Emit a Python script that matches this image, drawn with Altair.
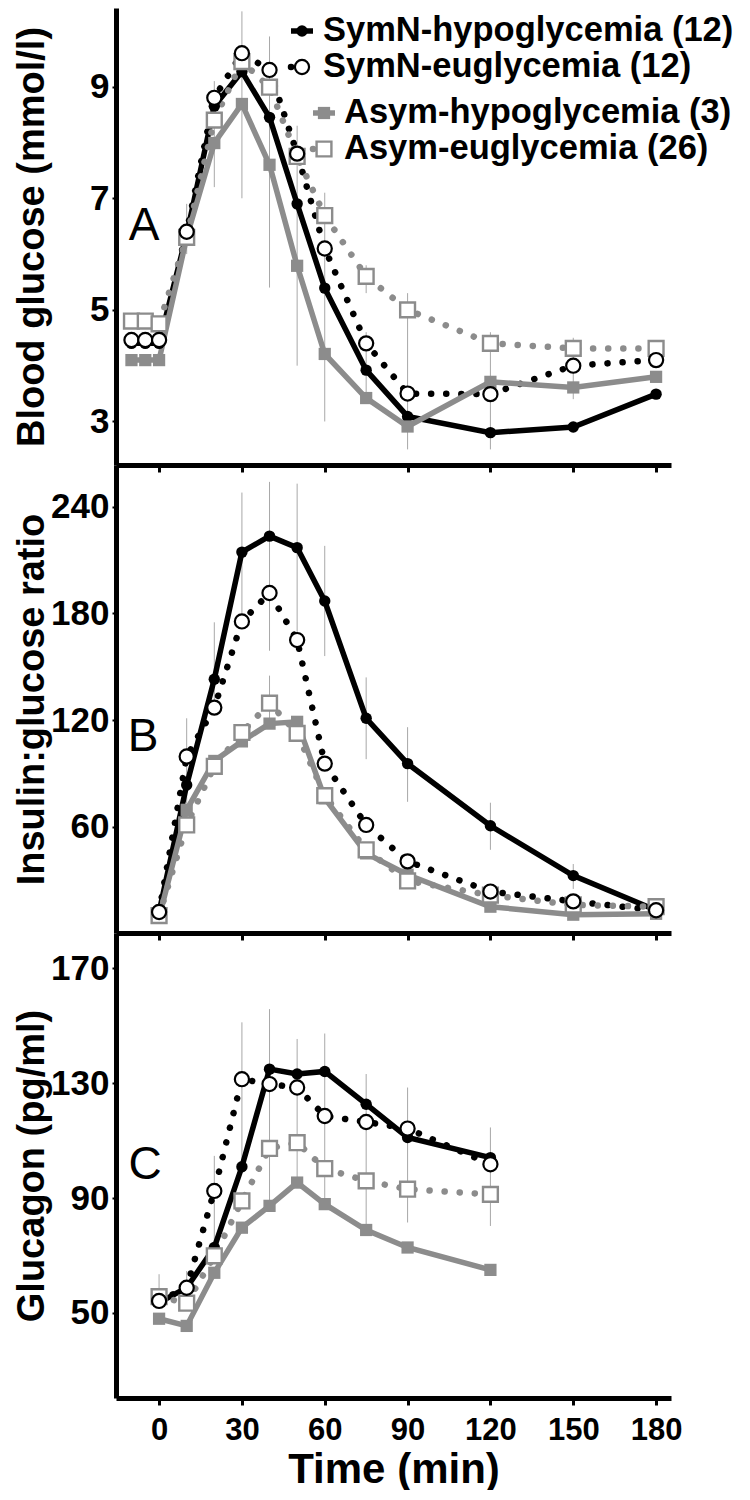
import altair as alt
import pandas as pd

SERIES = ["SymN-hypoglycemia (12)", "SymN-euglycemia (12)",
          "Asym-hypoglycemia (3)", "Asym-euglycemia (26)"]

# ---- Panel A: blood glucose (mmol/l)
time_a = [-10, -5, 0, 10, 20, 30, 40, 50, 60, 75, 90, 120, 150, 180]
glu_symn_hypo = [4.4, 4.4, 4.4, 6.35, 8.65, 9.27, 8.45, 6.9, 5.39, 3.92, 3.09, 2.8, 2.9, 3.49]
glu_symn_eu = [4.46, 4.46, 4.46, 6.4, 8.8, 9.6, 9.3, 7.8, 6.1, 4.4, 3.5, 3.49, 4.0, 4.1]
glu_asym_hypo = [4.1, 4.1, 4.1, 6.3, 7.99, 8.69, 7.6, 5.79, 4.21, 3.42, 2.91, 3.71, 3.61, 3.8]
glu_asym_eu = [4.8, 4.8, 4.75, 6.3, 8.4, 9.45, 8.99, 7.75, 6.69, 5.6, 5.0, 4.4, 4.31, 4.31]
err_a_time = [10, 20, 30, 40, 50, 60, 75, 75, 90, 120, 150]
err_a_lo = [6.0, 7.2, 7.0, 5.4, 4.0, 3.0, 3.4, 5.3, 2.5, 2.5, 3.4]
err_a_hi = [6.9, 9.1, 10.35, 9.9, 8.3, 7.1, 4.6, 5.8, 5.3, 4.6, 4.5]

# ---- Panel B: insulin:glucose ratio
time_b = [0, 10, 20, 30, 40, 50, 60, 75, 90, 120, 150, 180]
igr_symn_hypo = [12, 83.5, 143, 214.5, 223.5, 217, 187, 121, 95.5, 60.5, 32.5, 13]
igr_symn_eu = [12, 99.5, 127, 175.5, 191.5, 165, 95.5, 61, 40.5, 23.5, 18, 13]
igr_asym_hypo = [9, 69.5, 97, 108, 118, 119, 76, 45, 33, 15, 10.5, 11]
igr_asym_eu = [10, 61, 94, 113, 129.5, 112.5, 77.5, 47, 29.5, 21.5, 16, 15]
err_b_time = [10, 20, 30, 40, 40, 50, 60, 75, 90, 120, 150]
err_b_lo = [73, 129, 180, 159, 118, 165, 156, 98, 74, 47, 25]
err_b_hi = [121, 175, 248, 254, 145, 253, 218, 144, 116, 73.5, 39]

# ---- Panel C: glucagon (pg/ml)
time_c = [0, 10, 20, 30, 40, 50, 60, 75, 90, 120]
gcg_symn_hypo = [53.6, 58.8, 72.8, 100.9, 134.9, 133.2, 134.1, 122.7, 111.1, 104.1]
gcg_symn_eu = [54.2, 58.8, 92.5, 131.4, 129.7, 128.5, 118.6, 116.5, 114.2, 101.8]
gcg_asym_hypo = [48, 45.5, 64, 79.7, 87.3, 95.4, 87.9, 78.9, 72.8, 65]
gcg_asym_eu = [55.7, 53.4, 69.9, 89, 107.3, 109.3, 100.3, 96, 93.1, 91.3]
err_c_time = [0, 10, 20, 30, 40, 50, 60, 75, 90, 120]
err_c_lo = [52.4, 57.1, 72.2, 100.1, 87.3, 94.2, 88.4, 79.2, 81.5, 80.3]
err_c_hi = [63.5, 64.6, 104.7, 151.2, 155.8, 145.4, 147.3, 133.2, 128.5, 114.6]

x_ticks = [0, 30, 60, 90, 120, 150, 180]

FONT = "Liberation Sans"
GREY = "#8c8c8c"
BLACK = "#000000"
W = 555

STYLE = {
    SERIES[0]: dict(color=BLACK, dotted=False, shape="circle", open=False),
    SERIES[1]: dict(color=BLACK, dotted=True, shape="circle", open=True),
    SERIES[2]: dict(color=GREY, dotted=False, shape="square", open=False),
    SERIES[3]: dict(color=GREY, dotted=True, shape="square", open=True),
}


def line_mark(st):
    kw = dict(color=st["color"], strokeWidth=5.5 if not st["dotted"] else 6.5)
    if st["dotted"]:
        kw.update(strokeDash=[0.1, 15], strokeCap="round")
    return kw


def point_mark(chart, st):
    if st["shape"] == "circle":
        if st["open"]:
            return chart.mark_point(shape="circle", filled=True, fill="white",
                                    stroke=st["color"], strokeWidth=2.2, size=200,
                                    opacity=1, fillOpacity=1)
        return chart.mark_point(shape="circle", filled=True, color=st["color"],
                                size=130, opacity=1)
    if st["open"]:
        return chart.mark_point(shape="square", filled=True, fill="white",
                                stroke=st["color"], strokeWidth=2.4, size=220,
                                opacity=1, fillOpacity=1)
    return chart.mark_point(shape="square", filled=True, color=st["color"],
                            size=150, opacity=1)


def panel(times, values_list, et, elo, ehi, domain, yticks, ytitle, height,
          letter, letter_x, letter_y, show_x, legend=False):
    rows = []
    for name, vals in zip(SERIES, values_list):
        for t, v in zip(times, vals):
            rows.append({"series": name, "time": t, "value": v})
    df = pd.DataFrame(rows)

    if show_x:
        xaxis = alt.Axis(values=x_ticks, title="Time (min)", grid=False,
                         domainWidth=5, domainColor=BLACK, tickColor=BLACK,
                         tickSize=7, tickWidth=3, labelFontSize=31,
                         labelFont=FONT, labelFontWeight="bold", labelColor=BLACK,
                         labelPadding=10, titleFontSize=42, titleFont=FONT,
                         titleFontWeight="bold", titleColor=BLACK, titlePadding=4,
                         labelFlush=False)
    else:
        xaxis = alt.Axis(values=x_ticks, title=None, labels=False, grid=False,
                         domainWidth=5, domainColor=BLACK, tickColor=BLACK,
                         tickSize=7, tickWidth=3)
    xenc = alt.X("time:Q", scale=alt.Scale(domain=[-15.6, 185.4], nice=False, zero=False),
                 axis=xaxis)
    yaxis = alt.Axis(values=yticks, title=ytitle, grid=False, domainWidth=5,
                     domainColor=BLACK, tickColor=BLACK, tickSize=4, tickWidth=2,
                     labelFontSize=35, labelFont=FONT, labelFontWeight="bold",
                     labelColor=BLACK, labelPadding=3, titleFontSize=38,
                     titleFont=FONT, titleFontWeight="bold", titleColor=BLACK,
                     titlePadding=1, minExtent=64, maxExtent=64)
    yenc = alt.Y("value:Q", scale=alt.Scale(domain=domain, nice=False, zero=False),
                 axis=yaxis)

    edf = pd.DataFrame({"time": et, "value": elo, "value2": ehi})
    layers = [alt.Chart(edf).mark_rule(color="#a8a8a8", strokeWidth=1).encode(
        x=xenc, y=yenc, y2="value2:Q")]

    base = alt.Chart(df)
    for name in SERIES:
        st = STYLE[name]
        layers.append(base.transform_filter(alt.datum.series == name)
                      .mark_line(**line_mark(st)).encode(x=xenc, y=yenc))
    for name in [SERIES[0], SERIES[2], SERIES[3], SERIES[1]]:
        st = STYLE[name]
        layers.append(point_mark(base.transform_filter(alt.datum.series == name), st)
                      .encode(x=xenc, y=yenc))

    ldf = pd.DataFrame({"t": [letter]})
    layers.append(alt.Chart(ldf).mark_text(font=FONT, fontSize=46, fontWeight="normal",
                                           color=BLACK, align="center",
                                           baseline="middle").encode(
        x=alt.value(letter_x), y=alt.value(letter_y), text="t:N"))

    if legend:
        sym_x = [186, 186, 208, 208]
        txt_x = [207, 207, 228, 228]
        row_y = [23, 59, 105, 141]
        for i, name in enumerate(SERIES):
            st = STYLE[name]
            d = pd.DataFrame({"label": [name]})
            rk = dict(color=st["color"], strokeWidth=5.5 if not st["dotted"] else 6.5)
            if st["dotted"]:
                rk.update(strokeDash=[0.1, 22], strokeCap="round")
            layers.append(alt.Chart(d).mark_rule(**rk).encode(
                x=alt.value(sym_x[i] - 11), x2=alt.value(sym_x[i] + 11),
                y=alt.value(row_y[i])))
            layers.append(point_mark(alt.Chart(d), st).encode(
                x=alt.value(sym_x[i]), y=alt.value(row_y[i])))
            layers.append(alt.Chart(d).mark_text(font=FONT, fontSize=34.5,
                                                 fontWeight="bold", color=BLACK,
                                                 align="left", baseline="middle").encode(
                x=alt.value(txt_x[i]), y=alt.value(row_y[i]), text="label:N"))

    return alt.layer(*layers).properties(width=W, height=height)


pa = panel(time_a, [glu_symn_hypo, glu_symn_eu, glu_asym_hypo, glu_asym_eu],
           err_a_time, err_a_lo, err_a_hi, [2.22, 10.41], [3, 5, 7, 9],
           "Blood glucose (mmol/l)", 457, "A", 28, 218, False, legend=True)
pb = panel(time_b, [igr_symn_hypo, igr_symn_eu, igr_asym_hypo, igr_asym_eu],
           err_b_time, err_b_lo, err_b_hi, [0.2, 263.5], [60, 120, 180, 240],
           "Insulin:glucose ratio", 468, "B", 27, 272, False)
pc = panel(time_c, [gcg_symn_hypo, gcg_symn_eu, gcg_asym_hypo, gcg_asym_eu],
           err_c_time, err_c_lo, err_c_hi, [20.4, 182.3], [50, 90, 130, 170],
           "Glucagon (pg/ml)", 465, "C", 29, 232, True)

chart = (alt.vconcat(pa, pb, pc, spacing=0, bounds="flush")
         .properties(padding={"left": 5, "top": 0, "right": 0, "bottom": 0},
                     background="white")
         .configure_view(strokeWidth=0, stroke="transparent"))

chart.save("out.html", embed_options={"renderer": "svg", "actions": False})
